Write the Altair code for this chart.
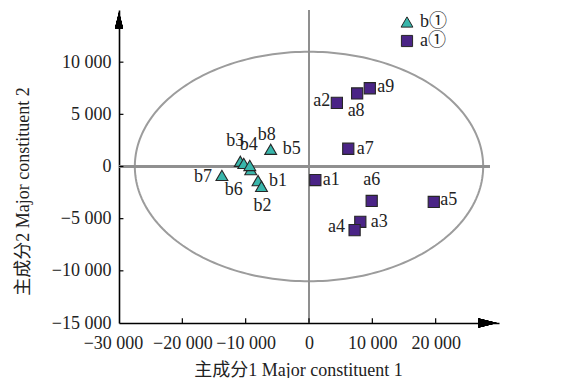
import altair as alt
import pandas as pd
import numpy as np

# ---- data ----
a_names = ["a1", "a2", "a3", "a4", "a5", "a6", "a7", "a8", "a9"]
a_x = [1000, 4400, 8100, 7200, 19700, 9900, 6200, 7600, 9600]
a_y = [-1300, 6100, -5300, -6100, -3400, -3300, 1700, 7000, 7500]
# label offsets from each point, in pixels (right / down)
a_label_dx = [16, -15, 19, -18, 15, 0, 17, -1, 16]
a_label_dy = [0, -2, 0, -3, -2, -21, 0, 18, -1]

b_names = ["b1", "b2", "b3", "b4", "b5", "b6", "b7", "b8"]
b_x = [-8050, -7500, -10850, -10300, -6050, -9200, -13750, -9350]
b_y = [-1350, -1900, 500, 300, 1650, -300, -850, 100]
b_label_dx = [20, 1, -5, 5, 21, -17, -19, 17]
b_label_dy = [0, 20, -20, -18, 0, 20, 2, -30]

group_names = ["b①", "a①"]
group_colors = ["#38b6ab", "#4a2486"]
group_shapes = ["triangle-up", "square"]

x_ticks = [-30000, -20000, -10000, 0, 10000, 20000]
y_ticks = [-15000, -10000, -5000, 0, 5000, 10000]
x_domain = [-30000, 30000]
y_domain = [-15000, 15000]

ellipse_center = (0, 0)
ellipse_semi_axes = (27500, 11000)

x_title = "主成分1 Major constituent 1"
y_title = "主成分2 Major constituent 2"

FONT = "Liberation Serif, Times New Roman, Noto Sans CJK SC, serif"
W, H = 380, 313

# ---- tables ----
ux = (x_domain[1] - x_domain[0]) / W   # data units per pixel
uy = (y_domain[1] - y_domain[0]) / H
all_x = b_x + a_x
all_y = b_y + a_y
all_dx = b_label_dx + a_label_dx
all_dy = b_label_dy + a_label_dy
pts = pd.DataFrame({
    "name": b_names + a_names,
    "x": all_x,
    "y": all_y,
    "lx": [x + d * ux for x, d in zip(all_x, all_dx)],
    "ly": [y - d * uy for y, d in zip(all_y, all_dy)],
    "group": ["b①"] * len(b_names) + ["a①"] * len(a_names),
})

t = np.linspace(0, 2 * np.pi, 241)
ell = pd.DataFrame({
    "x": ellipse_center[0] + ellipse_semi_axes[0] * np.cos(t),
    "y": ellipse_center[1] + ellipse_semi_axes[1] * np.sin(t),
    "i": np.arange(len(t)),
})

xs = alt.Scale(domain=x_domain, nice=False, zero=False)
ys = alt.Scale(domain=y_domain, nice=False, zero=False)
label_expr = "replace(format(datum.value, ','), ',', ' ')"

x_axis = alt.Axis(values=x_ticks, labelExpr=label_expr, grid=False, ticks=False,
                  labelOverlap=False, labelFlush=False, labelPadding=11,
                  labelOffset={"condition": {"test": "datum.value === -30000", "value": -6},
                               "value": 0},
                  title=x_title, titleX=179,
                  titleY=47, titleBaseline="middle", titleAlign="center")
y_axis = alt.Axis(values=y_ticks, labelExpr=label_expr, grid=False, ticks=False,
                  labelOverlap=False, labelFlush=False, labelPadding=8, title=y_title,
                  titleX=-96, titleY=181, titleBaseline="middle", titleAlign="center",
                  titleAngle=-90)

ellipse = alt.Chart(ell).mark_line(color="#9c9c9c", strokeWidth=2).encode(
    x=alt.X("x:Q", scale=xs, axis=x_axis),
    y=alt.Y("y:Q", scale=ys, axis=y_axis),
    order="i:Q",
)

ref_v = alt.Chart(pts).mark_rule(color="#8f8f8f", strokeWidth=2).encode(
    x=alt.datum(0), y=alt.datum(y_domain[0]), y2=alt.datum(y_domain[1]))
ref_h = alt.Chart(pts).mark_rule(color="#8f8f8f", strokeWidth=2).encode(
    y=alt.datum(0), x=alt.datum(x_domain[0]), x2=alt.datum(28500))

xt = pd.DataFrame({"v": x_ticks[1:]})
yt = pd.DataFrame({"v": y_ticks[1:]})
x_tick_marks = alt.Chart(xt).mark_rule(color="black", strokeWidth=1.2).encode(
    x="v:Q", y=alt.datum(y_domain[0]), y2=alt.datum(y_domain[0] + 450))
y_tick_marks = alt.Chart(yt).mark_rule(color="black", strokeWidth=1.2).encode(
    y="v:Q", x=alt.datum(x_domain[0]), x2=alt.datum(x_domain[0] + 700))

points = alt.Chart(pts).mark_point(filled=True, opacity=1, stroke="#262626",
                                   strokeWidth=1.1).encode(
    x="x:Q", y="y:Q",
    color=alt.Color("group:N", scale=alt.Scale(domain=group_names, range=group_colors),
                    legend=alt.Legend(orient="none", legendX=279, legendY=3, title=None,
                                      symbolStrokeColor="#262626", symbolStrokeWidth=1,
                                      symbolSize=110, labelFont=FONT, labelFontSize=18,
                                      labelColor="#222", labelOffset=4, rowPadding=1)),
    shape=alt.Shape("group:N", scale=alt.Scale(domain=group_names, range=group_shapes)),
    size=alt.Size("group:N", scale=alt.Scale(domain=group_names, range=[140, 125]),
                  legend=None),
)

labels = alt.Chart(pts).mark_text(font=FONT, fontSize=18, color="#222",
                                  align="center", baseline="middle").encode(
    x="lx:Q", y="ly:Q", text="name:N",
)

arrow_x = alt.Chart(pts).mark_point(shape="M -1 -0.5 L 1 0 L -1 0.5 Z", filled=True,
                                    color="black", opacity=1, size=324, clip=False).encode(
    x=alt.datum(28200), y=alt.datum(y_domain[0]))
arrow_y = alt.Chart(pts).mark_point(shape="M -0.5 1 L 0 -1 L 0.5 1 Z", filled=True,
                                    color="black", opacity=1, size=256, clip=False).encode(
    x=alt.datum(x_domain[0]), y=alt.datum(14000))

chart = alt.layer(ellipse, ref_v, ref_h, x_tick_marks, y_tick_marks, points, labels,
                  arrow_x, arrow_y).properties(
    width=W, height=H,
    autosize=alt.AutoSizeParams(type="none"),
    padding={"left": 111, "top": 2, "right": 81, "bottom": 55},
    background="white",
).configure_view(stroke=None).configure_axis(
    domainColor="black", domainWidth=1.6,
    labelFont=FONT, labelFontSize=18, labelColor="#222",
    titleFont=FONT, titleFontSize=18, titleColor="#222", titleFontWeight="normal",
)

chart.save("out.html", embed_options={"renderer": "svg", "actions": False})
